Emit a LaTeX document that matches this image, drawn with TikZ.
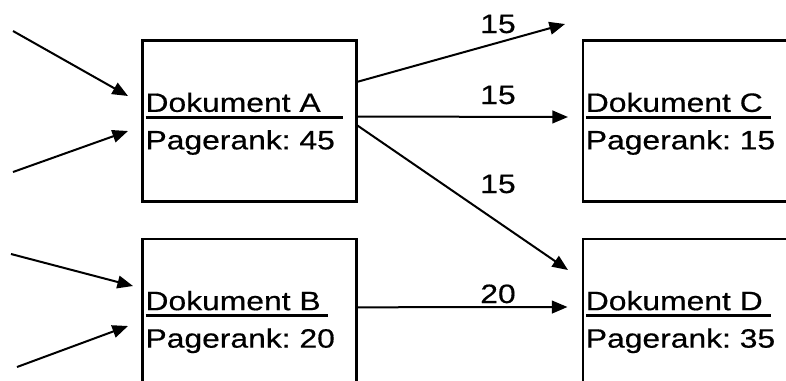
\documentclass[tikz,border=0pt]{standalone}
\usepackage{fontspec}
\setmainfont{Liberation Sans}[FakeStretch=1.2, FakeBold=0.5]
\usetikzlibrary{arrows.meta,calc}
\frenchspacing

% header line of a document box
\newcommand{\docline}[2]{\rlap{\rule[-5.1pt]{#1}{2pt}}\rule{0pt}{18.5pt}#2}

\begin{document}
\begin{tikzpicture}[
  x = 0.75pt, y = -0.75pt,
  doc/.style = {draw, rectangle, line width = 2.2pt, outer sep = 0pt,
                minimum width = 160.5pt, minimum height = 120.5pt,
                inner xsep = 2.1pt, text width = 156.3pt, align = left,
                font = \fontsize{19.9}{28.1}\selectfont},
  link/.style = {line width = 1.5pt, -{Triangle[length = 11.7pt, width = 9.5pt]}},
  weight/.style = {anchor = base, font = \fontsize{19.9}{28.1}\selectfont}
  ]
  \useasboundingbox (0,0) rectangle (786,380);
  \clip (0,0) rectangle (786,380);

  %documents
  \node[doc] (docA) at (249.7,121) {\docline{148pt}{Dokument A}\\Pagerank: 45};
  \node[doc] (docB) at (249.7,319.3) {\docline{137pt}{Dokument B}\\Pagerank: 20};
  \node[doc] (docC) at (690,121) {\docline{139pt}{Dokument C}\\Pagerank: 15};
  \node[doc] (docD) at (690,319.3) {\docline{139pt}{Dokument D}\\Pagerank: 35};

  %incoming links
  \coordinate (inA1) at (13,31);
  \coordinate (inA2) at (13,172);
  \coordinate (inB1) at (11,254);
  \coordinate (inB2) at (17,367);
  \draw[link] (inA1) -- ($(docA.west)+(-14.7,-25)$);
  \draw[link] (inA2) -- ($(docA.west)+(-14.7,10)$);
  \draw[link] (inB1) -- ($(docB.west)+(-9.7,-33.3)$);
  \draw[link] (inB2) -- ($(docB.west)+(-14.7,6.7)$);

  %outgoing links
  \coordinate (outA) at (565,24);
  \draw[link] ($(docA.east)+(0,-39)$) -- (outA);
  \draw[link] ($(docA.east)+(0,-4.5)$) -- ($(docC.west)+(-15,-4)$);
  \draw[link] ($(docA.east)+(0,4)$) -- ($(docD.west)+(-15,-49.3)$);
  \draw[link] ($(docB.east)+(0,-12)$) -- ($(docD.west)+(-15.5,-12.3)$);

  %shares of the rank
  \node[weight] (wAX) at (498,33) {15};
  \node[weight] (wAC) at (498,104) {15};
  \node[weight] (wAD) at (498,193) {15};
  \node[weight] (wBD) at (498,303) {20};
\end{tikzpicture}
\end{document}
